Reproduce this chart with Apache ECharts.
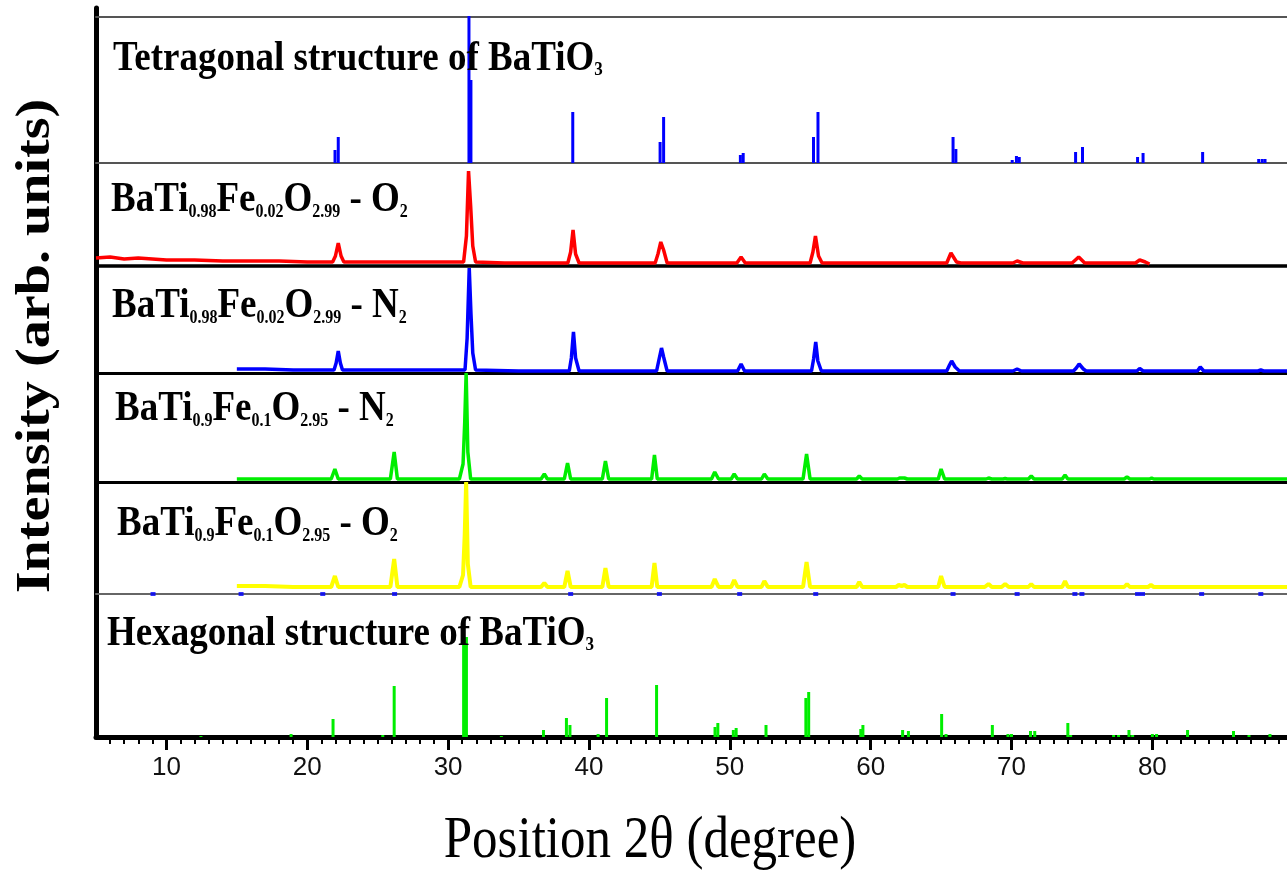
<!DOCTYPE html>
<html><head><meta charset="utf-8">
<script src="https://cdn.jsdelivr.net/npm/echarts@6/dist/echarts.min.js"></script>
<style>html,body{margin:0;padding:0;background:#fff}#c{width:1287px;height:872px}</style>
</head><body><div id="c"></div>
<script>
// ---------- DATA ----------
const xRange = [5, 89.56];
const xTickLabels = [10, 20, 30, 40, 50, 60, 70, 80];
const xMinorTicks = [6,7,8,9,11,12,13,14,15,16,17,18,19,21,22,23,24,25,26,27,28,29,31,32,33,34,35,36,37,38,39,41,42,43,44,45,46,47,48,49,51,52,53,54,55,56,57,58,59,61,62,63,64,65,66,67,68,69,71,72,73,74,75,76,77,78,79,81,82,83,84,85,86,87,88,89];

const xTitle = 'Position 2θ (degree)';
const yTitle = 'Intensity (arb. units)';

// reference pattern: tetragonal BaTiO3 (2θ, intensity)
const tetragonalSticks = [[21.97,13],[22.2,26],[31.48,147],[31.62,83],[38.85,51],[45.05,21],[45.3,46],[50.75,8],[50.95,10],[55.94,26],[56.26,51],[65.85,26],[66.05,14],[70.05,3],[70.35,7],[70.55,6],[74.55,11],[75.04,16],[78.95,6],[79.34,10],[83.57,11],[87.55,4],[87.8,4],[88.0,4]];

// BaTi0.98Fe0.02O2.99 - O2 (red)
const redO2 = [[5,8],[6,9],[7,7],[8,8],[10,6],[12,6],[14,5],[16,5],[18,5],[20,4],[21.8,4],[22.0,10],[22.2,23],[22.4,10],[22.6,4],[26,4],[28,4],[30,4],[31.1,4],[31.3,30],[31.45,95],[31.6,60],[31.75,20],[31.95,4],[34,3],[36,3],[38.5,3],[38.7,14],[38.87,36],[39.05,12],[39.3,3],[42,3],[44.7,3],[44.9,12],[45.1,24],[45.3,16],[45.55,3],[48,3],[50.5,3],[50.8,9],[51.1,3],[54,3],[55.7,3],[55.9,14],[56.08,30],[56.3,10],[56.55,3],[60,3],[63,3],[65.4,3],[65.7,13],[66.1,4],[66.4,3],[68,3],[70.1,3],[70.4,5],[70.8,3],[72,3],[74.3,3],[74.77,9],[75.2,3],[77,3],[78.8,3],[79.1,6],[79.5,4],[79.8,2]];

// BaTi0.98Fe0.02O2.99 - N2 (blue)
const blueN2 = [[15,4],[17,4],[19,3],[21,3],[21.9,3],[22.05,10],[22.2,22],[22.35,10],[22.5,3],[26,3],[30,3],[31.2,3],[31.35,35],[31.5,105],[31.62,60],[31.75,20],[31.95,3],[35,2],[38.6,2],[38.75,15],[38.9,41],[39.05,15],[39.3,2],[43,2],[44.8,2],[44.95,12],[45.15,25],[45.3,16],[45.55,2],[48,2],[50.55,2],[50.8,9],[51.05,2],[54,2],[55.8,2],[55.95,14],[56.1,31],[56.25,12],[56.5,2],[60,2],[65.4,2],[65.6,8],[65.75,12],[66.0,6],[66.3,2],[70.1,2],[70.4,4],[70.7,2],[74.4,2],[74.6,5],[74.8,9],[75.1,4],[75.3,2],[78.9,2],[79.1,4.5],[79.35,2],[83.2,2],[83.4,6],[83.65,2],[87.5,2],[87.7,3],[87.9,2],[89.6,2]];

// BaTi0.9Fe0.1O2.95 - N2 (green)
const greenN2 = [[15,3],[17,3],[19,3],[21.7,3],[21.96,13],[22.2,3],[25.9,3],[26.17,30],[26.4,3],[30.8,3],[31.06,18],[31.18,60],[31.28,109],[31.4,30],[31.6,3],[36.6,3],[36.83,8],[37.05,3],[38.25,3],[38.48,19],[38.7,3],[40.95,3],[41.17,21],[41.4,3],[44.45,3],[44.65,27],[44.85,3],[48.7,3],[48.93,10],[49.2,3],[50.1,3],[50.31,8],[50.55,3],[52.25,3],[52.45,8],[52.7,3],[55.2,3],[55.45,28],[55.7,3],[59.0,3],[59.19,6],[59.4,3],[61.9,3],[62.05,4],[62.4,4],[62.6,3],[64.8,3],[65.0,13],[65.25,3],[68.2,3],[68.37,4],[68.6,3],[69.4,3],[69.55,3.5],[69.7,3],[71.2,3],[71.4,6],[71.6,3],[73.6,3],[73.8,7],[74.0,3],[78.0,3],[78.2,5],[78.4,3],[79.8,3],[79.95,4],[80.1,3],[82.3,3],[82.4,4],[82.5,3],[85.5,3],[85.6,3.5],[85.7,3],[89.6,3]];

// BaTi0.9Fe0.1O2.95 - O2 (yellow)
const yellowO2 = [[15,8],[17,8],[19,7],[21.7,7],[21.96,18],[22.2,7],[25.9,7],[26.17,35],[26.4,7],[30.8,7],[31.06,19],[31.18,60],[31.28,112],[31.4,30],[31.6,7],[36.6,7],[36.83,11],[37.05,7],[38.25,7],[38.48,23],[38.7,7],[40.95,7],[41.17,26],[41.4,7],[44.45,7],[44.65,31],[44.85,7],[48.7,7],[48.93,15],[49.2,7],[50.1,7],[50.31,14],[50.55,7],[52.25,7],[52.45,13],[52.7,7],[55.2,7],[55.45,32],[55.7,7],[59.0,7],[59.19,12],[59.4,7],[61.8,7],[62.0,9],[62.2,8],[62.4,9],[62.6,7],[64.8,7],[65.0,18],[65.25,7],[68.1,7],[68.37,10],[68.6,7],[69.3,7],[69.55,10],[69.8,7],[71.2,7],[71.4,10],[71.6,7],[73.6,7],[73.8,13],[74.0,7],[78.0,7],[78.2,10],[78.4,7],[79.7,7],[79.9,9],[80.1,7],[89.6,7]];

// small blue reference marks on the yellow panel baseline (2θ)
const refMarks = [9.05,15.3,21.1,26.2,38.7,45.0,50.7,56.1,65.85,70.4,74.5,75.0,78.95,79.3,83.5,87.7];

// reference pattern: hexagonal BaTiO3 (2θ, intensity)
const hexagonalSticks = [[12.45,1],[18.85,3],[21.83,18],[25.36,2],[26.17,51],[31.1,100],[31.3,100],[33.78,1],[36.77,7],[38.4,19],[38.65,12],[40.65,3],[41.25,39],[44.8,52],[48.95,10],[49.15,14],[50.25,7],[50.45,9],[52.57,12],[55.4,39],[55.6,45],[59.3,8],[59.45,12],[62.27,7],[62.68,6],[65.04,23],[65.35,3],[68.64,12],[69.75,3],[70.0,3],[71.35,6],[71.65,6],[74.0,14],[74.2,2],[77.25,2],[77.6,2],[78.34,7],[78.6,2],[80.0,3],[80.3,3],[82.5,7],[85.76,6],[86.86,2],[88.35,3]];

// panel labels: [text, m=main | s=subscript]
const labelTetragonal = [['Tetragonal structure of BaTiO','m'],['3','s']];
const labelRed = [['BaTi','m'],['0.98','s'],['Fe','m'],['0.02','s'],['O','m'],['2.99','s'],[' - O','m'],['2','s']];
const labelBlue = [['BaTi','m'],['0.98','s'],['Fe','m'],['0.02','s'],['O','m'],['2.99','s'],[' - N','m'],['2','s']];
const labelGreen = [['BaTi','m'],['0.9','s'],['Fe','m'],['0.1','s'],['O','m'],['2.95','s'],[' - N','m'],['2','s']];
const labelYellow = [['BaTi','m'],['0.9','s'],['Fe','m'],['0.1','s'],['O','m'],['2.95','s'],[' - O','m'],['2','s']];
const labelHexagonal = [['Hexagonal structure of BaTiO','m'],['3','s']];

// ---------- LAYOUT ----------
const L = 96;
const panels = [
  {top:17, h:146}, // tetragonal
  {top:163, h:103}, // red
  {top:266, h:107}, // blue
  {top:373, h:109}, // green
  {top:482, h:112}, // yellow
  {top:594, h:143}  // hexagonal
];
const grids = panels.map(p => ({left:L, right:0, top:p.top, height:p.h}));
grids.push({left:L, right:0, top:8, height:729}); // background frame (left axis)

const hiddenBits = {axisTick:{show:false}, axisLabel:{show:false}, splitLine:{show:false}};
function xA(gi, lineColor, lineWidth, extra) {
  return Object.assign({type:'value', gridIndex:gi, min:xRange[0], max:xRange[1], position:'bottom',
    axisLine:{show:true, onZero:false, lineStyle:{color:lineColor, width:lineWidth}}}, hiddenBits, extra || {});
}
const xAxes = [
  xA(0, '#555', 2),
  xA(0, '#555', 2, {position:'top'}),
  xA(1, '#000', 3.5),
  xA(2, '#000', 3),
  xA(3, '#000', 3),
  xA(4, '#666', 2),
  xA(5, '#000', 5, {
    axisTick:{show:true, customValues:xTickLabels, length:13, lineStyle:{color:'#000', width:3}},
    axisLabel:{show:true, customValues:xTickLabels, fontSize:26, fontFamily:'Liberation Sans', color:'#111', margin:18}
  }),
  xA(5, '#000', 0, {axisLine:{show:false},
    axisTick:{show:true, customValues:xMinorTicks, length:7, lineStyle:{color:'#000', width:2}}}),
  Object.assign(xA(6, '#000', 1), {show:false})
];
const yAxes = panels.map((p, i) => ({type:'value', gridIndex:i, min:0, max:p.h, show:false}));
yAxes.push({type:'value', gridIndex:6, min:0, max:1, position:'left',
  axisLine:{show:true, lineStyle:{color:'#000', width:5}}, axisTick:{show:false}, axisLabel:{show:false}, splitLine:{show:false}});

function lineSeries(data, xi, yi, color, w) {
  return {type:'line', data, xAxisIndex:xi, yAxisIndex:yi, symbol:'none', clip:false, silent:true,
    lineStyle:{color, width:w}, z:3};
}
function stickSeries(data, xi, yi, color) {
  return {type:'bar', data, xAxisIndex:xi, yAxisIndex:yi, barWidth:3, clip:false, silent:true,
    itemStyle:{color}, z:3};
}
const series = [
  stickSeries(tetragonalSticks, 0, 0, '#0000ff'),
  lineSeries(redO2, 2, 1, '#ff0000', 3.5),
  lineSeries(blueN2, 3, 2, '#0000ff', 3.5),
  lineSeries(greenN2, 4, 3, '#00ee00', 3.5),
  lineSeries(yellowO2, 5, 4, '#ffff00', 4),
  {type:'scatter', data:refMarks.map(v => [v, 0]), xAxisIndex:5, yAxisIndex:4, symbol:'rect', symbolSize:[5,4],
    itemStyle:{color:'#0000ff'}, silent:true, z:4},
  stickSeries(hexagonalSticks, 6, 5, '#00ee00')
];

const SY = 1.15;
function richLabel(parts, x, y, mainSize, subSize) {
  return {type:'text', x, y, scaleY:SY, z:10, silent:true,
    style:{
      text: parts.map(p => '{' + p[1] + '|' + p[0] + '}').join(''),
      rich:{
        m:{fontFamily:'Liberation Serif', fontWeight:'bold', fontSize:mainSize, lineHeight:40, fill:'#000', verticalAlign:'bottom'},
        s:{fontFamily:'Liberation Serif', fontWeight:'bold', fontSize:subSize, lineHeight:27, fill:'#000', verticalAlign:'bottom'}
      },
      align:'left', verticalAlign:'middle', textAlign:'left', textVerticalAlign:'middle'
    }};
}

const graphic = [
  richLabel(labelTetragonal, 113, 57, 37, 17),
  richLabel(labelRed, 111, 198, 37, 16),
  richLabel(labelBlue, 112, 304, 37, 16),
  richLabel(labelGreen, 115, 407, 37, 16),
  richLabel(labelYellow, 117, 522, 37, 16),
  richLabel(labelHexagonal, 107, 632, 37, 17),
  {type:'text', x:650, y:842, scaleY:SY, silent:true,
    style:{text:xTitle, fontFamily:'Liberation Serif', fontSize:51, fill:'#000',
      align:'center', verticalAlign:'middle', textAlign:'center', textVerticalAlign:'middle'}},
  {type:'text', x:37, y:346, rotation:Math.PI/2, scaleX:1.17, silent:true,
    style:{text:yTitle, fontFamily:'Liberation Serif', fontWeight:'bold', fontSize:48, fill:'#000',
      align:'center', verticalAlign:'middle', textAlign:'center', textVerticalAlign:'middle'}}
];

const chart = echarts.init(document.getElementById('c'), null, {renderer:'canvas'});
chart.setOption({
  animation:false,
  backgroundColor:'#fff',
  grid:grids,
  xAxis:xAxes,
  yAxis:yAxes,
  series,
  graphic
});
</script></body></html>
